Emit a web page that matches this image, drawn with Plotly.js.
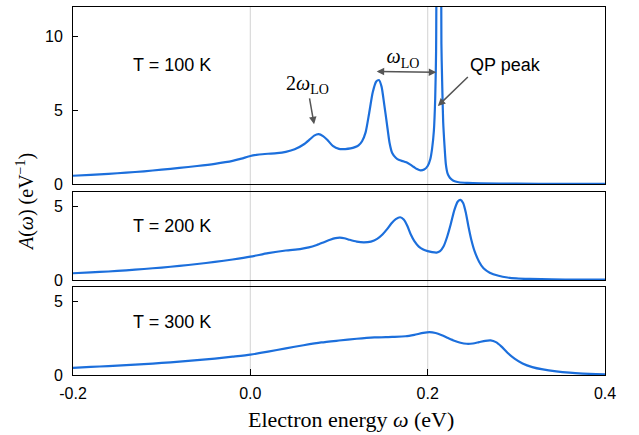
<!DOCTYPE html>
<html>
<head>
<meta charset="utf-8">
<script src="https://cdn.plot.ly/plotly-3.0.1.min.js"></script>
<style>
  html, body { margin: 0; padding: 0; background: #ffffff; }
  #chart { width: 639px; height: 435px; }
</style>
</head>
<body>
<div id="chart"></div>
<script>
// ---------- data ----------
// T = 100 K
const x100 = [-0.20,-0.18,-0.16,-0.14,-0.12,-0.10,-0.08,-0.06,-0.04,-0.02,-0.01,0.00,0.01,0.02,0.03,0.04,0.05,0.06,0.067,0.072,0.077,0.082,0.087,0.093,0.100,0.107,0.113,0.118,0.122,0.126,0.130,0.134,0.138,0.142,0.145,0.148,0.151,0.154,0.157,0.160,0.164,0.168,0.172,0.176,0.180,0.184,0.188,0.192,0.196,0.200,0.203,0.205,0.207,0.2085,0.2095,0.2125,0.2155,0.2165,0.2175,0.2190,0.2205,0.2225,0.225,0.229,0.235,0.245,0.26,0.30,0.35,0.40];
const y100 = [0.56,0.62,0.69,0.77,0.86,0.97,1.09,1.22,1.37,1.57,1.72,1.90,2.00,2.05,2.09,2.18,2.35,2.68,3.02,3.28,3.38,3.25,2.98,2.58,2.38,2.37,2.41,2.50,2.62,2.90,3.50,4.80,6.20,6.95,7.05,6.60,5.40,4.10,2.80,2.10,1.78,1.62,1.55,1.47,1.33,1.17,1.01,0.92,0.98,1.22,1.70,2.40,3.60,5.80,9.00,60.0,9.50,6.50,4.20,2.60,1.35,0.70,0.42,0.22,0.12,0.07,0.04,0.02,0.01,0.01];
// T = 200 K
const x200 = [-0.20,-0.18,-0.16,-0.14,-0.12,-0.10,-0.08,-0.06,-0.04,-0.02,0.00,0.02,0.04,0.056,0.066,0.075,0.083,0.090,0.096,0.101,0.106,0.112,0.120,0.128,0.136,0.143,0.149,0.154,0.159,0.164,0.169,0.173,0.177,0.181,0.185,0.190,0.195,0.200,0.205,0.210,0.214,0.218,0.222,0.226,0.230,0.234,0.237,0.240,0.243,0.246,0.249,0.253,0.258,0.263,0.270,0.280,0.290,0.300,0.315,0.34,0.37,0.40];
const y200 = [0.46,0.52,0.58,0.66,0.75,0.85,0.96,1.09,1.23,1.40,1.59,1.83,2.01,2.11,2.22,2.39,2.58,2.75,2.86,2.89,2.85,2.74,2.62,2.57,2.62,2.80,3.10,3.45,3.85,4.15,4.28,4.12,3.70,3.10,2.65,2.28,2.08,1.97,1.90,1.87,1.97,2.30,2.95,3.80,4.75,5.35,5.46,5.25,4.60,3.65,2.80,1.95,1.25,0.80,0.50,0.29,0.17,0.11,0.07,0.04,0.03,0.02];
// T = 300 K
const x300 = [-0.20,-0.18,-0.16,-0.14,-0.12,-0.10,-0.08,-0.06,-0.04,-0.02,0.00,0.02,0.04,0.06,0.08,0.10,0.12,0.14,0.16,0.175,0.185,0.195,0.202,0.209,0.216,0.223,0.230,0.237,0.244,0.251,0.258,0.265,0.271,0.277,0.283,0.290,0.298,0.307,0.318,0.330,0.345,0.36,0.375,0.39,0.40];
const y300 = [0.49,0.55,0.61,0.67,0.74,0.82,0.91,1.01,1.12,1.25,1.39,1.59,1.82,2.03,2.22,2.35,2.47,2.56,2.60,2.64,2.74,2.87,2.92,2.86,2.71,2.52,2.34,2.20,2.13,2.15,2.24,2.33,2.36,2.24,1.95,1.52,1.12,0.79,0.54,0.38,0.25,0.16,0.10,0.06,0.04];

const xTickVals = [-0.2, 0.0, 0.2, 0.4];
const xTickText = ["-0.2", "0.0", "0.2", "0.4"];
const yTickTop = [0, 5, 10];
const yTickLow = [0, 5];
const panelLabels = ["T = 100 K", "T = 200 K", "T = 300 K"];
const refLines = [0.0, 0.2];

// ---------- styling ----------
const BLUE = "#1c6fdc";
const SANS = "Liberation Sans, Arial, sans-serif";
const SERIF = "Liberation Serif, Times New Roman, serif";
const ARROW = "#555555";

function tr(x, y, xa, ya) {
  return { x: x, y: y, xaxis: xa, yaxis: ya, type: "scatter", mode: "lines",
    line: { color: BLUE, width: 2.2, shape: "spline", smoothing: 0.6 },
    hoverinfo: "skip", showlegend: false };
}
const data = [
  tr(x100, y100, "x", "y"),
  tr(x200, y200, "x2", "y2"),
  tr(x300, y300, "x3", "y3")
];

function xax(showLabels) {
  return {
    range: [-0.2, 0.4], showgrid: false, zeroline: false,
    showline: true, mirror: true, linecolor: "#000", linewidth: 1,
    ticks: showLabels ? "inside" : "", ticklen: 6, tickcolor: "#000", tickwidth: 1.2,
    tickvals: xTickVals, ticktext: xTickText, showticklabels: showLabels,
    tickfont: { family: SANS, size: 16, color: "#000" },
    ticklabelstandoff: 4,
    fixedrange: true
  };
}
function yax(domain, range, vals, anchor) {
  return {
    domain: domain, range: range, anchor: anchor, showgrid: false, zeroline: false,
    showline: true, mirror: true, linecolor: "#000", linewidth: 1,
    ticks: "inside", ticklen: 5, tickcolor: "#000", tickwidth: 1.2,
    tickvals: vals, ticktext: vals.map(String),
    tickfont: { family: SANS, size: 16, color: "#000" },
    ticklabelstandoff: 6,
    fixedrange: true
  };
}

const shapes = refLines.map(v => ({
  type: "line", xref: "x3", yref: "paper", x0: v, x1: v, y0: 0, y1: 1,
  line: { color: "#dadada", width: 1.2 }, layer: "below"
}));

const annotations = [
  { xref: "x", yref: "y", x: -0.0889, y: 8.1, text: panelLabels[0], showarrow: false,
    font: { family: SANS, size: 18, color: "#000" } },
  { xref: "x2", yref: "y2", x: -0.0889, y: 3.7, text: panelLabels[1], showarrow: false,
    font: { family: SANS, size: 18, color: "#000" } },
  { xref: "x3", yref: "y3", x: -0.0889, y: 3.59, text: panelLabels[2], showarrow: false,
    font: { family: SANS, size: 18, color: "#000" } },
  // 2 omega_LO label with its arrow
  { xref: "x", yref: "y", x: 0.0719, y: 4.05, ax: -7, ay: -40,
    text: "2<i>ω</i><sub>LO</sub>", showarrow: true,
    arrowhead: 2, arrowsize: 1, arrowwidth: 1.5, arrowcolor: ARROW,
    font: { family: SERIF, size: 20, color: "#000" } },
  // omega_LO label sitting on its double arrow
  { xref: "x", yref: "y", axref: "x", ayref: "y", x: 0.2097, y: 7.57, ax: 0.1425, ay: 7.63,
    text: "<i>ω</i><sub>LO</sub>", showarrow: true,
    xanchor: "left", yanchor: "bottom", width: 50, height: 24, align: "center", valign: "middle",
    borderpad: 0,
    arrowhead: 2, startarrowhead: 2, arrowside: "end+start",
    arrowsize: 1, startarrowsize: 1, arrowwidth: 1.5, arrowcolor: ARROW,
    font: { family: SERIF, size: 20, color: "#000" } },
  // QP peak label with its arrow
  { xref: "x", yref: "y", x: 0.2115, y: 5.29, ax: 30, ay: -29,
    text: "QP peak", showarrow: true, xanchor: "left", yanchor: "bottom",
    arrowhead: 2, arrowsize: 1, arrowwidth: 1.5, arrowcolor: ARROW,
    font: { family: SANS, size: 18, color: "#000" } },
  // axis titles
  { xref: "paper", yref: "paper", x: 0.5226, y: -0.1196, yanchor: "middle", xanchor: "center",
    text: "Electron energy <i>ω</i> (eV)", showarrow: false,
    font: { family: SERIF, size: 22, color: "#000" } },
  { xref: "paper", yref: "paper", x: -0.0902, y: 0.47, xanchor: "center", yanchor: "middle",
    textangle: -90, text: "<i>A</i>(<i>ω</i>) (eV<sup>−1</sup>)", showarrow: false,
    font: { family: SERIF, size: 20, color: "#000" } }
];

const layout = {
  width: 639, height: 435,
  margin: { l: 73, r: 34, t: 7, b: 60 },
  paper_bgcolor: "#fff", plot_bgcolor: "rgba(0,0,0,0)",
  showlegend: false,
  xaxis: Object.assign(xax(false), { anchor: "y", matches: "x3" }),
  xaxis2: Object.assign(xax(false), { anchor: "y2", matches: "x3" }),
  xaxis3: Object.assign(xax(true), { anchor: "y3" }),
  yaxis: yax([0.51902, 1], [0, 12], yTickTop, "x"),
  yaxis2: yax([0.25815, 0.49728], [0, 6], yTickLow, "x2"),
  yaxis3: yax([0, 0.23913], [0, 6], yTickLow, "x3"),
  shapes: shapes,
  annotations: annotations
};

Plotly.newPlot("chart", data, layout, { displayModeBar: false, staticPlot: true }).then(gd => {
  // drop empty placeholder text nodes (untitled axes) that Plotly leaves behind
  gd.querySelectorAll("text").forEach(t => {
    if (!t.textContent.trim()) t.remove();
  });
});
</script>
</body>
</html>
